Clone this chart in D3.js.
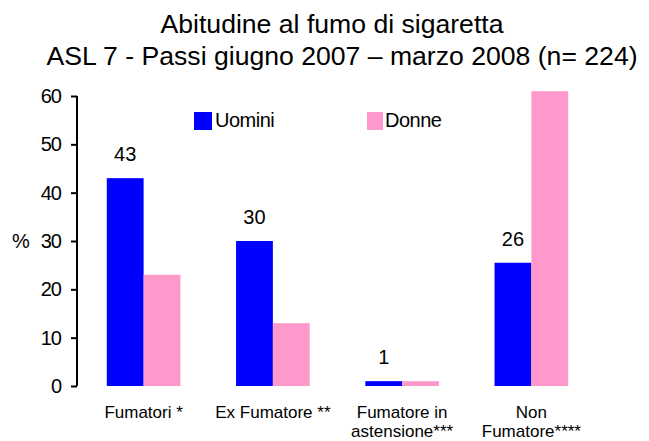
<!DOCTYPE html>
<html>
<head>
<meta charset="utf-8">
<script src="https://cdn.jsdelivr.net/npm/d3@7"></script>
<style>
  html, body { margin: 0; padding: 0; background: #fff; }
  svg { display: block; font-family: "Liberation Sans", Arial, sans-serif; }
</style>
</head>
<body>
<svg id="chart" width="649" height="441"></svg>
<script>
const titleLines = ["Abitudine al fumo di sigaretta", "ASL 7 - Passi giugno 2007 \u2013 marzo 2008 (n= 224)"];
const categories = [["Fumatori *"], ["Ex Fumatore **"], ["Fumatore in", "astensione***"], ["Non", "Fumatore****"]];
const seriesNames = ["Uomini", "Donne"];
const uomini = [43, 30, 1, 25.5];
const donne = [23, 13, 1, 61];
const yTicks = [0, 10, 20, 30, 40, 50, 60];
const colors = ["#0000FF", "#FF99CC"];

const svg = d3.select("#chart");

// Title
svg.append("text").attr("x", 332).attr("y", 33).attr("text-anchor", "middle")
  .attr("font-size", 26.6).attr("fill", "#000").text(titleLines[0]);
svg.append("text").attr("x", 342).attr("y", 65).attr("text-anchor", "middle")
  .attr("font-size", 26.6).attr("fill", "#000").text(titleLines[1]);

const y = d3.scaleLinear().domain([0, 60]).range([386, 96]);
const x0 = d3.scaleBand().domain(d3.range(categories.length)).range([79, 596])
  .paddingInner(0.43).paddingOuter(0.215);
const x1 = d3.scaleBand().domain([0, 1]).range([0, x0.bandwidth()]);

// Y axis
const yAxis = svg.append("g").attr("transform", "translate(77,0)")
  .call(d3.axisLeft(y).tickValues(yTicks).tickSize(6).tickPadding(10).tickFormat(d3.format("d")));
yAxis.select(".domain").attr("stroke", "#000").attr("stroke-width", 2).attr("d", `M0,${y(0)}V${y(60)}`);
yAxis.selectAll(".tick line").attr("stroke", "#000").attr("stroke-width", 2);
yAxis.selectAll(".tick text").attr("font-size", 20).attr("fill", "#000")
  .attr("font-family", "'Liberation Sans', Arial, sans-serif").attr("letter-spacing", -1);

// % label
svg.append("text").attr("x", 21).attr("y", y(30)).attr("dy", "0.35em").attr("text-anchor", "middle")
  .attr("font-size", 20).attr("fill", "#000").text("%");

// Bars
const series = [uomini, donne];
series.forEach((vals, si) => {
  svg.append("g").selectAll("rect").data(vals).join("rect")
    .attr("x", (d, i) => x0(i) + x1(si))
    .attr("y", d => y(d))
    .attr("width", x1.bandwidth())
    .attr("height", d => y(0) - y(d))
    .attr("fill", colors[si]);
});

// Value labels on Uomini bars
svg.append("g").selectAll("text").data(uomini).join("text")
  .attr("x", (d, i) => x0(i) + x1(0) + x1.bandwidth() / 2)
  .attr("y", d => y(d) - 17)
  .attr("text-anchor", "middle").attr("font-size", 20).attr("fill", "#000")
  .text(d => Math.round(d));

// Category labels
const cat = svg.append("g").selectAll("text").data(categories).join("text")
  .attr("x", (d, i) => x0(i) + x0.bandwidth() / 2)
  .attr("y", 418)
  .attr("text-anchor", "middle").attr("font-size", 17).attr("fill", "#000");
cat.selectAll("tspan").data(d => d).join("tspan")
  .attr("x", function () { return d3.select(this.parentNode).attr("x"); })
  .attr("dy", (d, i) => i === 0 ? 0 : 19)
  .text(d => d);

// Legend
const legendPos = [{sx: 194, sw: 18, tx: 215}, {sx: 367, sw: 16, tx: 385}];
seriesNames.forEach((name, i) => {
  svg.append("rect").attr("x", legendPos[i].sx).attr("y", 112)
    .attr("width", legendPos[i].sw).attr("height", 18).attr("fill", colors[i]);
  svg.append("text").attr("x", legendPos[i].tx).attr("y", 127)
    .attr("font-size", 20).attr("fill", "#000").attr("letter-spacing", -0.5).text(name);
});
</script>
</body>
</html>
